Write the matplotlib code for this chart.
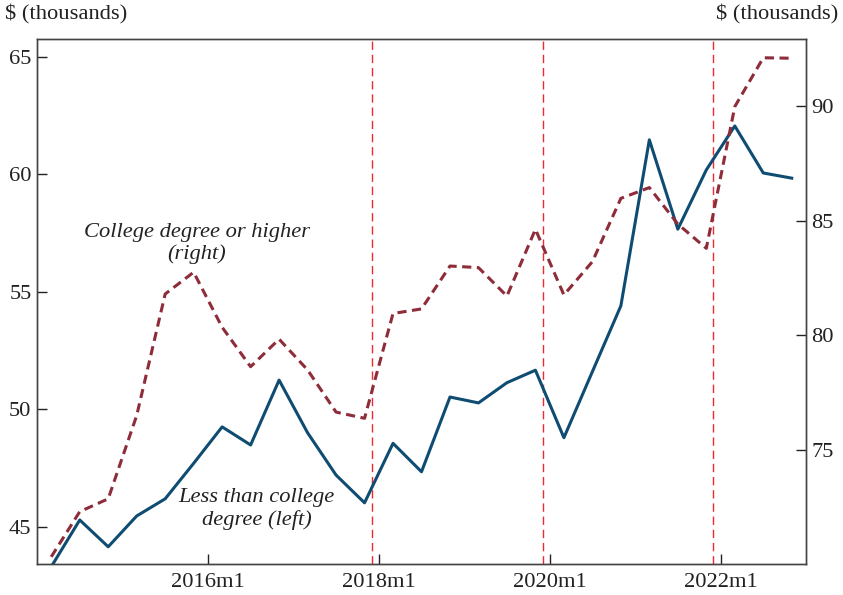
"""Earnings by education: less than college (left) vs college degree or higher (right)."""

import matplotlib

matplotlib.use("Agg")
import matplotlib.pyplot as plt

BLUE, WINE, RED, INK = "#0F4C72", "#8E2C3A", "#EE2A30", "#222222"
plt.rcParams.update(
    {
        "font.family": ["Liberation Serif", "DejaVu Serif"],
        "font.size": 16,
        "axes.linewidth": 1.0,
    }
)

# periods sampled every four months
periods = [
    "2014m3", "2014m7", "2014m11", "2015m3", "2015m7", "2015m11",
    "2016m3", "2016m7", "2016m11", "2017m3", "2017m7", "2017m11",
    "2018m3", "2018m7", "2018m11", "2019m3", "2019m7", "2019m11",
    "2020m3", "2020m7", "2020m11", "2021m3", "2021m7", "2021m11",
    "2022m3", "2022m7", "2022m11",
]
less_college = [
    43.3, 45.29, 44.15, 45.46, 46.19, 47.7,
    49.25, 48.48, 51.24, 49.0, 47.2, 46.02,
    48.55, 47.34, 50.52, 50.27, 51.13, 51.66,
    48.79, 51.6, 54.4, 61.46, 57.66, 60.18,
    62.05, 60.05, 59.83,
]
college_plus = [
    70.34, 72.31, 72.87, 76.5, 81.8, 82.75,
    80.35, 78.63, 79.83, 78.49, 76.65, 76.38,
    80.95, 81.15, 83.02, 82.95, 81.71, 84.62,
    81.76, 83.21, 85.97, 86.44, 84.85, 83.79,
    89.97, 92.1, 92.08,
]
event_periods = ["2017m12", "2019m12", "2021m12"]
xtick_periods = ["2016m1", "2018m1", "2020m1", "2022m1"]


def to_x(p):
    y, m = p.split("m")
    return int(y) + (int(m) - 1) / 12


x = [to_x(p) for p in periods]

fig = plt.figure(figsize=(8.43, 5.95), dpi=100)
ax = fig.add_axes([0.0439, 0.0526, 0.9122, 0.8819])
ax2 = ax.twinx()

for p in event_periods:
    ax.axvline(to_x(p), color=RED, lw=1.0, dashes=(6, 3.5), zorder=1)

ax.plot(x, less_college, color=BLUE, lw=2.2, zorder=3)
ax2.plot(x, college_plus, color=WINE, lw=2.2, dashes=(3, 1.8), zorder=3)

ax.set_xlim(to_x("2014m1"), to_x("2023m1"))
ax.set_ylim(43.43, 65.75)
ax2.set_ylim(70.04, 92.92)
ax.set_yticks([45, 50, 55, 60, 65])
ax2.set_yticks([75, 80, 85, 90])
ax.set_xticks([to_x(p) for p in xtick_periods])
ax.set_xticklabels(xtick_periods)

for a in (ax, ax2):
    a.tick_params(direction="in", length=7, width=1.0, colors=INK, labelsize=16.2)
    for s in a.spines.values():
        s.set_color("#444444")
ax.tick_params(axis="x", pad=7)
ax.tick_params(axis="y", pad=4)
ax2.tick_params(axis="y", pad=4)

fig.text(0.006, 0.975, "$ (thousands)", ha="left", va="center", fontsize=16.2, color=INK)
fig.text(0.994, 0.975, "$ (thousands)", ha="right", va="center", fontsize=16.2, color=INK)

ax.text(to_x("2015m11") + 0.04, 57.05, "College degree or higher\n(right)", style="italic",
        ha="center", va="center", fontsize=16.2, color=INK, linespacing=1.22)
ax.text(to_x("2016m7") + 0.07, 45.75, "Less than college\ndegree (left)", style="italic",
        ha="center", va="center", fontsize=16.2, color=INK, linespacing=1.22)

fig.savefig("out.png", dpi=100)
